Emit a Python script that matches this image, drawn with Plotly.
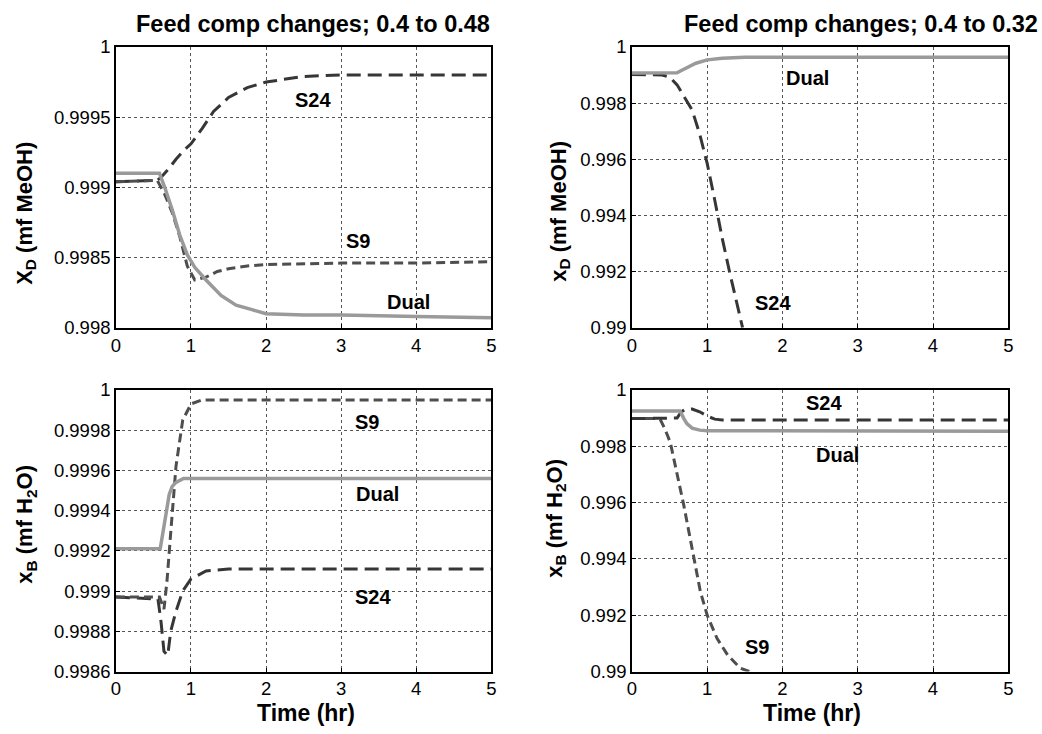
import plotly.graph_objects as go

# ---------------- data ----------------
# Top-left: XD, feed 0.4 -> 0.48  (range 0.998 - 1)
tl_s24_t = [0, 0.55, 0.6, 0.7, 0.8, 0.9, 1.0, 1.15, 1.3, 1.5, 1.75, 2.0, 2.5, 3, 4, 5]
tl_s24_v = [0.99904, 0.99905, 0.99907, 0.99913, 0.99920, 0.99926, 0.99931, 0.99942, 0.99954,
            0.99964, 0.99971, 0.99975, 0.99979, 0.99980, 0.99980, 0.99980]
tl_s9_t = [0, 0.55, 0.65, 0.75, 0.85, 0.95, 1.05, 1.2, 1.35, 1.5, 1.75, 2.0, 3, 4, 5]
tl_s9_v = [0.99904, 0.99905, 0.99895, 0.99882, 0.99865, 0.99844, 0.99834, 0.99836, 0.99840,
           0.99842, 0.99844, 0.99845, 0.99846, 0.99846, 0.99847]
tl_dual_t = [0, 0.58, 0.65, 0.75, 0.85, 0.95, 1.05, 1.2, 1.4, 1.6, 1.8, 2.0, 2.5, 3, 4, 5]
tl_dual_v = [0.99910, 0.99910, 0.99900, 0.99884, 0.99866, 0.99852, 0.99843, 0.99834, 0.99823,
             0.99816, 0.99813, 0.99810, 0.99809, 0.99809, 0.99808, 0.99807]

# Top-right: XD, feed 0.4 -> 0.32 (range 0.99 - 1)
tr_dual_t = [0, 0.6, 0.65, 0.75, 0.85, 1.0, 1.2, 1.5, 5]
tr_dual_v = [0.99907, 0.99908, 0.99915, 0.99930, 0.99942, 0.99954, 0.99960, 0.99963, 0.99963]
tr_s24_t = [0, 0.4, 0.5, 0.6, 0.7, 0.8, 0.9, 1.0, 1.1, 1.2, 1.3, 1.4, 1.47]
tr_s24_v = [0.99902, 0.99900, 0.99893, 0.99865, 0.99820, 0.99775, 0.99690, 0.99585, 0.99455,
            0.99318, 0.99195, 0.99080, 0.99000]

# Bottom-left: XB, feed 0.4 -> 0.48 (range 0.9986 - 1)
bl_s9_t = [0, 0.58, 0.64, 0.68, 0.73, 0.8, 0.89, 1.0, 1.15, 5]
bl_s9_v = [0.99897, 0.99897, 0.99891, 0.99905, 0.99929, 0.99962, 0.99985, 0.99993, 0.99995, 0.99995]
bl_s24_t = [0, 0.56, 0.6, 0.64, 0.69, 0.73, 0.8, 0.89, 1.0, 1.2, 1.5, 5]
bl_s24_v = [0.99897, 0.99896, 0.99885, 0.99870, 0.99868, 0.99880, 0.99890, 0.99900, 0.99906,
            0.99910, 0.99911, 0.99911]
bl_dual_t = [0, 0.59, 0.63, 0.67, 0.71, 0.75, 0.8, 0.9, 1.0, 5]
bl_dual_v = [0.99921, 0.99921, 0.99930, 0.99940, 0.99948, 0.99952, 0.99954, 0.99956, 0.99956, 0.99956]

# Bottom-right: XB, feed 0.4 -> 0.32 (range 0.99 - 1)
br_s24_t = [0, 0.6, 0.65, 0.7, 0.8, 0.9, 1.0, 1.1, 1.2, 5]
br_s24_v = [0.99898, 0.99900, 0.99920, 0.99930, 0.99932, 0.99922, 0.99907, 0.99896, 0.99893, 0.99893]
br_dual_t = [0, 0.64, 0.69, 0.73, 0.8, 0.9, 1.0, 5]
br_dual_v = [0.99925, 0.99925, 0.99898, 0.99880, 0.99864, 0.99857, 0.99855, 0.99853]
br_s9_t = [0, 0.35, 0.38, 0.44, 0.51, 0.6, 0.69, 0.8, 0.91, 1.0, 1.13, 1.27, 1.44, 1.56]
br_s9_v = [0.99898, 0.99898, 0.99893, 0.99860, 0.99813, 0.99707, 0.99589, 0.99436, 0.99283,
           0.99200, 0.99118, 0.99059, 0.99012, 0.99000]

x_ticks = [0, 1, 2, 3, 4, 5]
tl_yticks = [0.998, 0.9985, 0.999, 0.9995, 1]
tl_ytext = ["0.998", "0.9985", "0.999", "0.9995", "1"]
tr_yticks = [0.99, 0.992, 0.994, 0.996, 0.998, 1]
tr_ytext = ["0.99", "0.992", "0.994", "0.996", "0.998", "1"]
bl_yticks = [0.9986, 0.9988, 0.999, 0.9992, 0.9994, 0.9996, 0.9998, 1]
bl_ytext = ["0.9986", "0.9988", "0.999", "0.9992", "0.9994", "0.9996", "0.9998", "1"]
br_yticks = tr_yticks
br_ytext = tr_ytext

titles = ["Feed comp changes; 0.4 to 0.48", "Feed comp changes; 0.4 to 0.32"]
ylabels = ["X<sub>D</sub> (mf MeOH)", "x<sub>D</sub> (mf MeOH)",
           "x<sub>B</sub> (mf H<sub>2</sub>O)", "x<sub>B</sub> (mf H<sub>2</sub>O)"]
xlabel = "Time (hr)"

# ---------------- styles ----------------
FONT = "Liberation Sans, Arial, Helvetica, sans-serif"
DARK = "#363636"
MID = "#4e4e4e"
GRAY = "#9a9a9a"
LONG = "14px,7px"
SHORT = "9px,5px"

fig = go.Figure()

def add(t, v, ax, color, dash, width):
    fig.add_trace(go.Scatter(x=t, y=v, mode="lines", xaxis="x" + ax, yaxis="y" + ax,
                             line=dict(color=color, dash=dash, width=width),
                             showlegend=False, hoverinfo="skip"))

# TL (axis "")
add(tl_s24_t, tl_s24_v, "", DARK, LONG, 3)
add(tl_s9_t, tl_s9_v, "", MID, SHORT, 3)
add(tl_dual_t, tl_dual_v, "", GRAY, "solid", 3.5)
# TR (axis 2)
add(tr_s24_t, tr_s24_v, "2", DARK, LONG, 3)
add(tr_dual_t, tr_dual_v, "2", GRAY, "solid", 3.5)
# BL (axis 3)
add(bl_s24_t, bl_s24_v, "3", DARK, LONG, 3)
add(bl_s9_t, bl_s9_v, "3", MID, SHORT, 3)
add(bl_dual_t, bl_dual_v, "3", GRAY, "solid", 3.5)
# BR (axis 4)
add(br_s9_t, br_s9_v, "4", MID, SHORT, 3)
add(br_s24_t, br_s24_v, "4", DARK, LONG, 3)
add(br_dual_t, br_dual_v, "4", GRAY, "solid", 3.5)

W, H = 1042, 734
xd_left = [112 / W, 491 / W]
xd_right = [633 / W, 1013 / W]
yd_top = [1 - 326 / H, 1 - 37 / H]
yd_bot = [1 - 680 / H, 1 - 390 / H]

TICKFONT = dict(family=FONT, size=18.5, color="black")

def xaxis(dom, anchor):
    return dict(domain=dom, anchor=anchor, range=[0, 5], tickvals=x_ticks,
                showgrid=True, gridcolor="#555555", griddash="dot", gridwidth=1,
                zeroline=False, showline=True, linecolor="black", linewidth=1.5, mirror=True,
                ticks="inside", ticklen=4, tickcolor="black", tickfont=TICKFONT)

def yaxis(dom, anchor, rng, tv, tt):
    return dict(domain=dom, anchor=anchor, range=rng, tickvals=tv, ticktext=tt,
                showgrid=True, gridcolor="#555555", griddash="dot", gridwidth=1,
                zeroline=False, showline=True, linecolor="black", linewidth=1.5, mirror=True,
                ticks="inside", ticklen=4, tickcolor="black", tickfont=TICKFONT)

fig.update_layout(
    width=W, height=H, margin=dict(l=0, r=0, t=0, b=0),
    paper_bgcolor="white", plot_bgcolor="white",
    xaxis=xaxis(xd_left, "y"), yaxis=yaxis(yd_top, "x", [0.998, 1], tl_yticks, tl_ytext),
    xaxis2=xaxis(xd_right, "y2"), yaxis2=yaxis(yd_top, "x2", [0.99, 1], tr_yticks, tr_ytext),
    xaxis3=xaxis(xd_left, "y3"), yaxis3=yaxis(yd_bot, "x3", [0.9986, 1], bl_yticks, bl_ytext),
    xaxis4=xaxis(xd_right, "y4"), yaxis4=yaxis(yd_bot, "x4", [0.99, 1], br_yticks, br_ytext),
)

ann = []
def lab(text, x, y, ax):
    ann.append(dict(text="<b>%s</b>" % text, x=x, y=y, xref="x" + ax, yref="y" + ax,
                    showarrow=False, font=dict(family=FONT, size=20, color="black")))

lab("S24", 2.62, 0.99962, "")
lab("S9", 3.22, 0.99862, "")
lab("Dual", 3.90, 0.99818, "")
lab("Dual", 2.33, 0.99890, "2")
lab("S24", 1.87, 0.99089, "2")
lab("S9", 3.35, 0.99984, "3")
lab("Dual", 3.48, 0.99948, "3")
lab("S24", 3.43, 0.99897, "3")
lab("S24", 2.55, 0.99954, "4")
lab("Dual", 2.73, 0.99770, "4")
lab("S9", 1.66, 0.99088, "4")

def paper(text, x, y, size, angle=0):
    ann.append(dict(text="<b>%s</b>" % text, x=x, y=y, xref="paper", yref="paper",
                    xanchor="center", yanchor="middle", showarrow=False, textangle=angle,
                    font=dict(family=FONT, size=size, color="black")))

paper(titles[0], 311 / W, 1 - 13 / H, 23.5)
paper(titles[1], 864 / W, 1 - 13 / H, 23.5)
paper(xlabel, 304 / W, 1 - 723 / H, 23)
paper(xlabel, 815 / W, 1 - 723 / H, 23)
paper(ylabels[0], 21 / W, 1 - 208 / H, 22, -90)
paper(ylabels[1], 560 / W, 1 - 206 / H, 22, -90)
paper(ylabels[2], 21 / W, 1 - 528 / H, 22, -90)
paper(ylabels[3], 556 / W, 1 - 522 / H, 22, -90)

fig.update_layout(annotations=ann)
fig.write_html("out.html", config={"displayModeBar": False},
               post_script="document.body.style.margin='0';document.body.style.overflow='hidden';")
